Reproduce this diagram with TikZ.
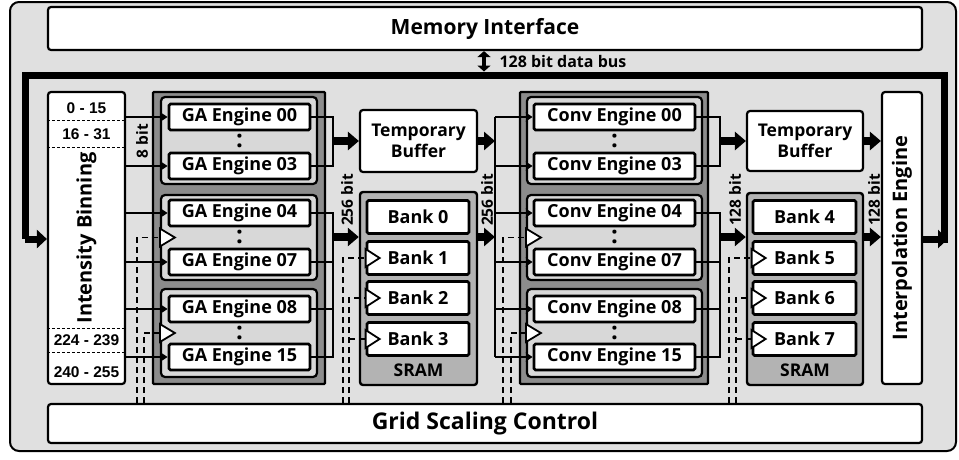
\documentclass[tikz,border=0pt]{standalone}
\usepackage{fontspec}
\setmainfont{Open Sans}
\newfontfamily\numfont{Liberation Sans}
\usetikzlibrary{arrows.meta}
\definecolor{bggray}{HTML}{E0E0E0}
\definecolor{grpdark}{HTML}{8C8C8C}
\definecolor{grplight}{HTML}{D8D8D8}
\definecolor{sramgray}{HTML}{B3B3B3}
\tikzset{
  box/.style={draw, fill=white, line width=2.2pt, rounded corners=3pt, inner sep=0pt},
  engine/.style={box, line width=2.8pt, rounded corners=1.5pt, minimum height=26pt,
    font=\fontsize{18}{20}\selectfont\bfseries},
  bank/.style={engine, minimum width=102pt, minimum height=33pt},
  dgrp/.style={draw, fill=grpdark, line width=2.4pt, rounded corners=1pt},
  lgrp/.style={draw, fill=grplight, line width=2.2pt, rounded corners=4pt},
  sram/.style={draw, fill=sramgray, line width=2.4pt, rounded corners=3pt},
  big/.style={font=\fontsize{20}{24}\selectfont\bfseries},
  mid/.style={font=\fontsize{17.5}{21}\selectfont\bfseries, align=center},
  small/.style={font=\fontsize{15.5}{18}\selectfont\bfseries, inner sep=0pt},
  num/.style={font=\fontsize{15.5}{18}\selectfont\numfont\bfseries},
  dots/.style={font=\fontsize{24}{24}\selectfont\bfseries, inner sep=0pt},
  sep/.style={line width=1pt, dash pattern=on 3pt off 2pt},
  link/.style={line width=2pt, -{Stealth[length=7pt,width=9pt,inset=2pt]}},
  wire/.style={line width=2pt},
  fat/.style={line width=8pt, -{Triangle[length=11pt,width=18pt]}},
  bus/.style={line width=7pt},
  ctl/.style={line width=1.8pt, dash pattern=on 6pt off 4pt},
  trig/.style={draw, fill=white, line width=1.8pt, line join=miter}
}
\begin{document}
\begin{tikzpicture}[x=1pt,y=-1pt]
  \useasboundingbox (0,0) rectangle (959,459);
  \draw[fill=bggray, line width=2pt, rounded corners=9pt] (10,2) rectangle (956,451);

  \node[box, minimum width=874pt, minimum height=43pt, font=\fontsize{21}{24}\selectfont\bfseries] (mem) at (485,28.5) {Memory Interface};
  \node[box, minimum width=874pt, minimum height=39pt, font=\fontsize{23}{26}\selectfont\bfseries] (grid) at (485,423.5) {Grid Scaling Control};

  \node[box, minimum width=77pt, minimum height=292pt] (bin) at (86.5,238) {};
  \node[big, rotate=90] at (bin) {Intensity Binning};
  \foreach \y in {120,147,328,352}
    \draw[sep] (bin.west |- 0,\y) -- (bin.east |- 0,\y);
  \node[num] at (86.5,108.5) {0 - 15};
  \node[num] at (86.5,134.5) {16 - 31};
  \node[num] at (86.5,340) {224 - 239};
  \node[num] at (86.5,372) {240 - 255};

  \node[dgrp, minimum width=172pt, minimum height=292pt] (ga) at (239,238) {};
  \node[lgrp, minimum width=156pt, minimum height=87pt] (gaA) at (239,140.5) {};
  \node[lgrp, minimum width=156pt, minimum height=85pt] (gaB) at (239,237.5) {};
  \node[lgrp, minimum width=156pt, minimum height=88pt] (gaC) at (239,333) {};
  \foreach \n/\y in {00/117,03/166,04/213,07/262,08/309,15/357}
    \node[engine, minimum width=141pt] (ga\n) at (239.5,\y) {GA Engine \n};
  \foreach \y in {141,237,333}
    \node[dots] at (239.5,\y) {:};

  \node[box, minimum width=117pt, minimum height=62pt, mid] (tb1) at (418.5,141) {Temporary\\Buffer};
  \node[sram, minimum width=117pt, minimum height=193pt] (sram1) at (418.5,288.5) {};
  \node[mid] at (418.5,370) {SRAM};
  \foreach \n/\y in {0/217,1/258,2/298,3/339}
    \node[bank] (bank\n) at (418,\y) {Bank \n};

  \node[dgrp, minimum width=188pt, minimum height=292pt] (conv) at (614,238) {};
  \node[lgrp, minimum width=175pt, minimum height=87pt] (cvA) at (614.5,140.5) {};
  \node[lgrp, minimum width=175pt, minimum height=85pt] (cvB) at (614.5,237.5) {};
  \node[lgrp, minimum width=175pt, minimum height=88pt] (cvC) at (614.5,333) {};
  \foreach \n/\y in {00/117,03/166,04/213,07/262,08/309,15/357}
    \node[engine, minimum width=161pt] (cv\n) at (614.5,\y) {Conv Engine \n};
  \foreach \y in {141,237,333}
    \node[dots] at (614.5,\y) {:};

  \node[box, minimum width=116pt, minimum height=60pt, mid] (tb2) at (805,141) {Temporary\\Buffer};
  \node[sram, minimum width=116pt, minimum height=192pt] (sram2) at (805,289) {};
  \node[mid] at (805,370) {SRAM};
  \foreach \n/\y in {4/217,5/258,6/298,7/339}
    \node[bank, minimum width=103pt] (bank\n) at (804.5,\y) {Bank \n};

  \node[box, minimum width=40pt, minimum height=292pt] (interp) at (902,238) {};
  \node[big, rotate=90] at (interp) {Interpolation Engine};

  \coordinate (gaBus) at (333,0);
  \coordinate (cvIn) at (495,0);
  \coordinate (cvBus) at (720,0);

  \foreach \n in {00,03,04,07,08,15}
    \draw[link] (bin.east |- ga\n) -- (ga\n.west);
  \draw[wire] (ga00.east) -| (gaBus |- ga03) -- (ga03.east);
  \draw[wire] (ga04.east) -| (gaBus |- ga15) -- (ga15.east);
  \draw[wire] (ga07.east) -- (gaBus |- ga07);
  \draw[wire] (ga08.east) -- (gaBus |- ga08);
  \draw[fat] (gaBus |- tb1) -- (tb1.west);
  \draw[fat] (gaBus |- 0,237) -- (sram1.west |- 0,237);
  \draw[fat] (tb1.east) -- (cvIn |- tb1);
  \draw[fat] (sram1.east |- 0,237) -- (cvIn |- 0,237);
  \node[small, rotate=90] at (142,141) {8 bit};
  \node[small, rotate=90] at (347,200) {256 bit};
  \node[small, rotate=90] at (487,200) {256 bit};

  \draw[wire] (cvIn |- cv00) -- (cvIn |- cv15);
  \foreach \n in {00,03,04,07,08,15}
    \draw[link] (cvIn |- cv\n) -- (cv\n.west);
  \draw[wire] (cv00.east) -| (cvBus |- cv03) -- (cv03.east);
  \draw[wire] (cv04.east) -| (cvBus |- cv15) -- (cv15.east);
  \draw[wire] (cv07.east) -- (cvBus |- cv07);
  \draw[wire] (cv08.east) -- (cvBus |- cv08);
  \draw[fat] (cvBus |- tb2) -- (tb2.west);
  \draw[fat] (cvBus |- 0,237) -- (sram2.west |- 0,237);
  \draw[fat] (tb2.east) -- (interp.west |- tb2);
  \draw[fat] (sram2.east |- 0,237) -- (interp.west |- 0,237);
  \node[small, rotate=90] at (735,200) {128 bit};
  \node[small, rotate=90] at (874,200) {128 bit};

  \draw[ctl] (grid.north -| 137,0) |- (gaB.west);
  \draw[ctl] (grid.north -| 144,0) |- (gaC.west);
  \draw[ctl] (grid.north -| 343,0) |- (bank1.west);
  \draw[ctl] (grid.north -| 349,0) |- (bank2.west);
  \draw[ctl] (bank3.west -| 349,0) -- (bank3.west);
  \draw[ctl] (grid.north -| 503,0) |- (cvB.west);
  \draw[ctl] (grid.north -| 511,0) |- (cvC.west);
  \draw[ctl] (grid.north -| 729,0) |- (bank5.west);
  \draw[ctl] (grid.north -| 736,0) |- (bank6.west);
  \draw[ctl] (bank7.west -| 736,0) -- (bank7.west);
  \foreach \g in {gaB,gaC,cvB,cvC}
    \draw[trig] (\g.west) ++(0,-9) -- ++(15,9) -- ++(-15,9) -- cycle;
  \foreach \g in {bank1,bank2,bank3,bank5,bank6,bank7}
    \draw[trig] (\g.west) ++(0,-9) -- ++(14,9) -- ++(-14,9) -- cycle;

  \coordinate (busR) at (944,239);
  \coordinate (busL) at (25,239);
  \draw[bus, -{Triangle[length=10pt,width=18pt]}] (interp.east |- busR) -- (948,239);
  \draw[bus] (944,242.5) -- (944,75) -- (25,75) -- (busL);
  \draw[bus, -{Triangle[length=10pt,width=18pt]}] (busL) -- (bin.west |- busL);
  \draw[line width=4pt, {Triangle[length=6pt,width=13pt]}-{Triangle[length=6pt,width=13pt]}] (mem.south -| 484,0) -- (484,71.5);
  \node[font=\fontsize{16}{19}\selectfont\bfseries, anchor=west] at (496,61) {128 bit data bus};
\end{tikzpicture}
\end{document}
